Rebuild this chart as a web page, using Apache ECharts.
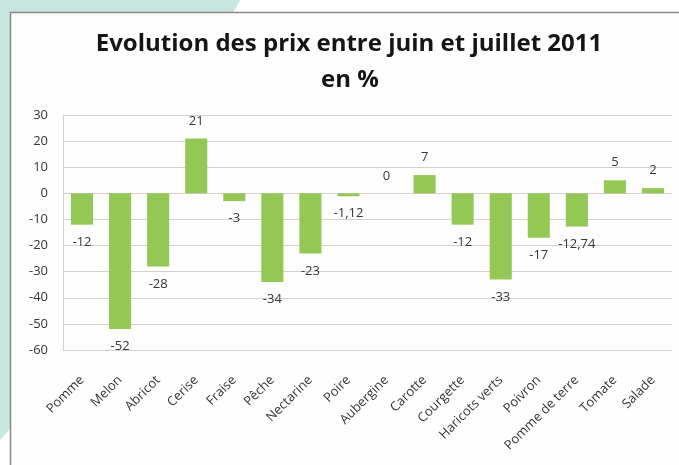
<!DOCTYPE html>
<html>
<head>
    <meta charset="utf-8">
    <title>Evolution des prix</title>
    <script src="https://cdn.jsdelivr.net/npm/echarts@6/dist/echarts.min.js"></script>
    <style type="text/css">
    html, body { margin: 0; padding: 0; background: #fff; }
    #main { width: 679px; height: 465px; }
    </style>
</head>
<body>
    <div id="main"></div>
    <script type="text/javascript">
    // produits et variation des prix (en %)
    var produits = ['Pomme', 'Melon', 'Abricot', 'Cerise', 'Fraise', 'Pêche', 'Nectarine', 'Poire',
        'Aubergine', 'Carotte', 'Courgette', 'Haricots verts', 'Poivron', 'Pomme de terre', 'Tomate', 'Salade'];
    var variations = [-12, -52, -28, 21, -3, -34, -23, -1.12, 0, 7, -12, -33, -17, -12.74, 5, 2];
    var yTicks = [-60, -50, -40, -30, -20, -10, 0, 10, 20, 30];

    var myChart = echarts.init(document.getElementById('main'));

    var barData = variations.map(function (v) {
        return {
            value: v,
            label: { position: v < 0 ? 'bottom' : 'top' }
        };
    });

    var option = {
        backgroundColor: '#fff',
        animation: false,
        graphic: [
            {
                type: 'polygon',
                z: -20,
                shape: { points: [[0, 0], [240, 0], [9, 430], [0, 440]] },
                style: { fill: '#c6e6df' }
            },
            {
                type: 'rect',
                z: -10,
                shape: { x: 10.5, y: 12.5, width: 700, height: 470 },
                style: { fill: '#fefefe', stroke: '#8d8883', lineWidth: 1.5 }
            },
            {
                type: 'text',
                x: 349, y: 44,
                style: {
                    text: 'Evolution des prix entre juin et juillet 2011',
                    textAlign: 'center', textVerticalAlign: 'middle',
                    font: 'bold 24px "Open Sans"', fill: '#151515'
                }
            },
            {
                type: 'text',
                x: 350, y: 80,
                style: {
                    text: 'en %',
                    textAlign: 'center', textVerticalAlign: 'middle',
                    font: 'bold 24px "Open Sans"', fill: '#151515'
                }
            }
        ],
        grid: { left: 63, right: 7, top: 115, bottom: 115 },
        xAxis: {
            type: 'category',
            data: produits,
            axisLine: { onZero: false, lineStyle: { color: '#d6d0cb' } },
            axisTick: { show: false },
            axisLabel: {
                interval: 0,
                rotate: 45,
                margin: 28,
                color: '#353535',
                fontFamily: 'Open Sans',
                fontSize: 13
            }
        },
        yAxis: {
            type: 'value',
            min: -60,
            max: 30,
            interval: 10,
            axisLine: { show: true, lineStyle: { color: '#d6d0cb' } },
            axisTick: { show: false },
            splitLine: { lineStyle: { color: '#d6d0cb', width: 1.2 } },
            axisLabel: {
                margin: 15,
                color: '#353535',
                fontFamily: 'Open Sans',
                fontSize: 13,
                formatter: function (v) { return yTicks.indexOf(v) >= 0 ? String(v) : ''; }
            }
        },
        series: [{
            type: 'bar',
            data: barData,
            barWidth: '58%',
            itemStyle: { color: '#93c854' },
            label: {
                show: true,
                distance: 11,
                color: '#353535',
                fontFamily: 'Open Sans',
                fontSize: 13,
                formatter: function (p) { return String(p.value).replace('.', ','); }
            }
        }]
    };

    myChart.setOption(option);
    </script>
</body>
</html>
